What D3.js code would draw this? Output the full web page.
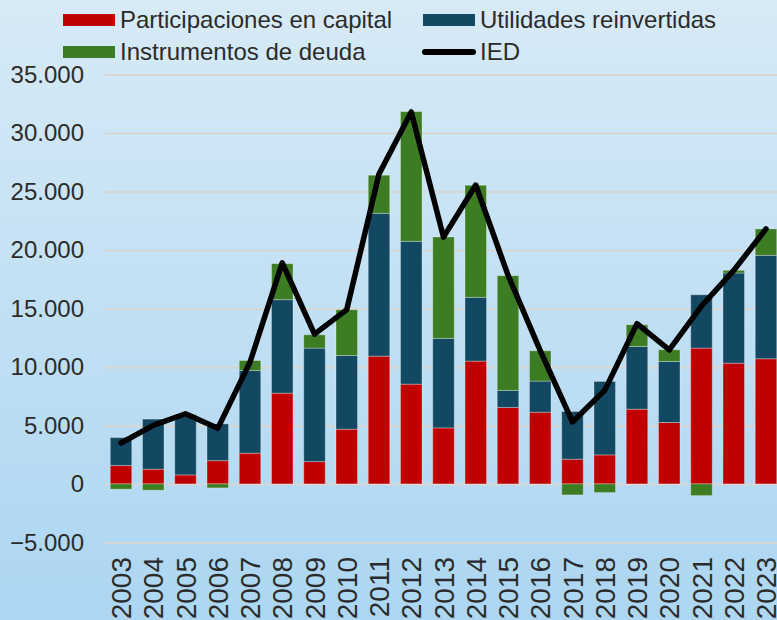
<!DOCTYPE html>
<html>
<head>
  <meta charset="utf-8" />
  <script src="https://d3js.org/d3.v7.min.js"></script>
  <style>
    * { margin: 0; padding: 0; box-sizing: border-box; }
    body { width: 777px; height: 620px; overflow: hidden; }
    svg { display: block; }
    text { font-family: "Liberation Sans", Arial, sans-serif; fill: #2b2b2b; }
  </style>
</head>
<body>
  <svg width="777" height="620"></svg>

  <script>
    // Data (millones)
    const years = ["2003", "2004", "2005", "2006", "2007", "2008", "2009", "2010", "2011", "2012",
      "2013", "2014", "2015", "2016", "2017", "2018", "2019", "2020", "2021", "2022", "2023"];
    const participaciones = [1570, 1260, 770, 1990, 2630, 7760, 1910, 4680, 10920, 8530,
      4790, 10500, 6530, 6130, 2110, 2480, 6390, 5250, 11610, 10320, 10700];
    const utilidades = [2390, 4280, 4990, 3140, 7070, 7990, 9700, 6300, 12210, 12210,
      7650, 5450, 1460, 2660, 4080, 6280, 5360, 5220, 4560, 7710, 8840];
    const instrumentos = [-450, -540, 170, -340, 850, 3080, 1140, 3910, 3260, 11090,
      8670, 9580, 9810, 2590, -940, -740, 1860, 1000, -1000, 230, 2260];
    const ied = [3500, 5000, 6000, 4750, 10400, 18900, 12800, 14900, 26500, 31800,
      21100, 25550, 17850, 11400, 5300, 8000, 13700, 11450, 15200, 18250, 21800];
    const yTicks = [-5000, 0, 5000, 10000, 15000, 20000, 25000, 30000, 35000];

    const seriesNames = ["Participaciones en capital", "Utilidades reinvertidas", "Instrumentos de deuda"];
    const seriesKeys = ["part", "util", "inst"];
    const colors = { part: "#c00000", util: "#124862", inst: "#3c7c23" };

    const svg = d3.select("svg");

    // background gradient
    const defs = svg.append("defs");
    const grad = defs.append("linearGradient").attr("id", "bg")
      .attr("x1", "0").attr("y1", "0").attr("x2", "0").attr("y2", "1");
    grad.append("stop").attr("offset", "0%").attr("stop-color", "#d7eaf6");
    grad.append("stop").attr("offset", "100%").attr("stop-color", "#acd6f2");
    svg.append("rect").attr("width", 777).attr("height", 620).attr("fill", "url(#bg)");

    const rows = years.map((yr, i) => ({
      year: yr, part: participaciones[i], util: utilidades[i], inst: instrumentos[i]
    }));

    const x = d3.scaleBand().domain(years).range([105, 782])
      .paddingInner(0.333).paddingOuter(0.163);
    const y = d3.scaleLinear().domain([-5000, 35000]).range([542.4, 74.5]);

    const locale = d3.formatLocale({ decimal: ",", thousands: ".", grouping: [3], currency: ["", ""] });
    const fmt = locale.format(",");

    // y axis + gridlines
    const yAxis = svg.append("g")
      .attr("transform", "translate(105,0)")
      .call(d3.axisLeft(y).tickValues(yTicks).tickFormat(fmt).tickSize(-700).tickPadding(21));
    yAxis.select(".domain").remove();
    yAxis.selectAll("line").attr("stroke", "#d6d6d6").attr("stroke-width", 2);
    yAxis.selectAll("text")
      .attr("fill", "#2b2b2b")
      .style("font-size", "24px")
      .style("font-family", "'Liberation Sans', Arial, sans-serif");

    // stacked bars
    const stack = d3.stack().keys(seriesKeys).offset(d3.stackOffsetDiverging);
    const stacked = stack(rows);

    svg.append("g")
      .selectAll("g")
      .data(stacked)
      .join("g")
      .attr("fill", d => colors[d.key])
      .selectAll("rect")
      .data(d => d)
      .join("rect")
      .attr("x", d => x(d.data.year))
      .attr("width", x.bandwidth())
      .attr("y", d => y(d[1]))
      .attr("height", d => Math.max(0, y(d[0]) - y(d[1])))
      .attr("stroke", "rgba(255,255,255,0.3)")
      .attr("stroke-width", 1);

    // IED line
    const line = d3.line()
      .x((d, i) => x(years[i]) + x.bandwidth() / 2)
      .y(d => y(d));
    svg.append("path")
      .datum(ied)
      .attr("d", line)
      .attr("fill", "none")
      .attr("stroke", "#000")
      .attr("stroke-width", 5.5)
      .attr("stroke-linejoin", "round")
      .attr("stroke-linecap", "round");

    // x axis (rotated year labels)
    const xAxis = svg.append("g")
      .attr("transform", "translate(0,557)")
      .call(d3.axisBottom(x).tickSize(0));
    xAxis.select(".domain").remove();
    xAxis.selectAll("text")
      .attr("transform", "rotate(-90)")
      .attr("x", 0)
      .attr("y", 0)
      .attr("dy", "0.36em")
      .attr("text-anchor", "end")
      .attr("fill", "#2b2b2b")
      .style("font-size", "28px")
      .style("font-family", "'Liberation Sans', Arial, sans-serif");

    // legend
    const legend = svg.append("g");
    const legendItems = [
      { name: seriesNames[0], key: "part", x: 63, y: 20 },
      { name: seriesNames[1], key: "util", x: 423, y: 20 },
      { name: seriesNames[2], key: "inst", x: 63, y: 52 },
      { name: "IED", key: "ied", x: 423, y: 52 }
    ];
    legendItems.forEach(it => {
      if (it.key === "ied") {
        legend.append("line")
          .attr("x1", it.x + 2).attr("x2", it.x + 50)
          .attr("y1", it.y).attr("y2", it.y)
          .attr("stroke", "#000").attr("stroke-width", 6).attr("stroke-linecap", "round");
      } else {
        legend.append("rect")
          .attr("x", it.x).attr("y", it.y - 6)
          .attr("width", 52).attr("height", 12)
          .attr("fill", colors[it.key]);
      }
      legend.append("text")
        .attr("x", it.x + 57)
        .attr("y", it.y)
        .attr("dy", "0.35em")
        .style("font-size", "24px")
        .text(it.name);
    });
  </script>
</body>
</html>
